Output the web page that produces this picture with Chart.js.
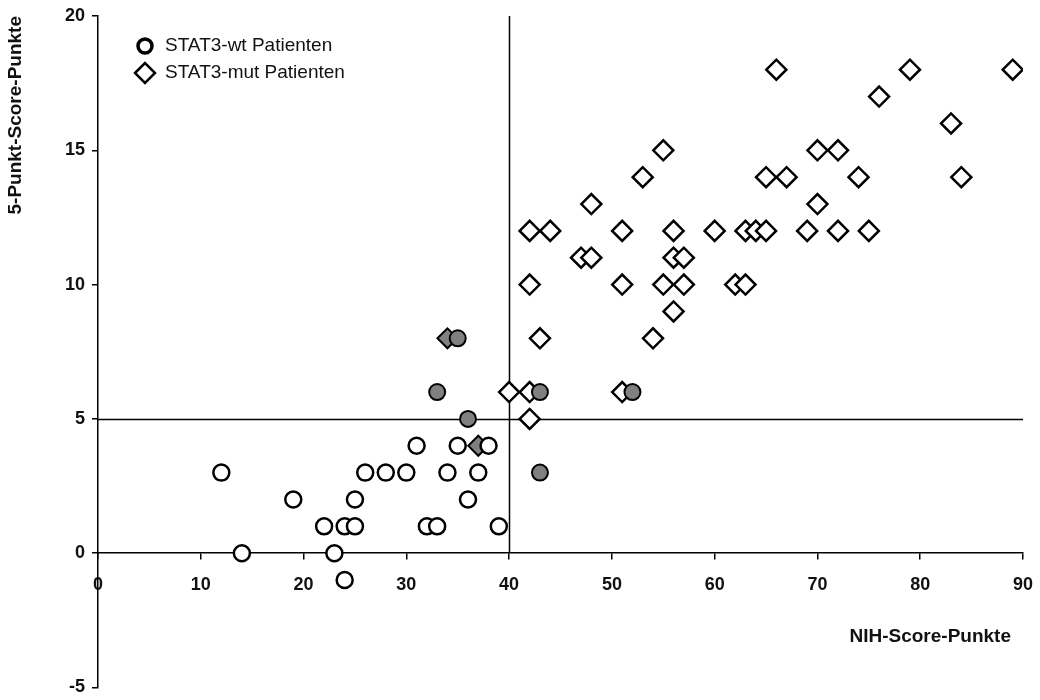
<!DOCTYPE html>
<html>
<head>
<meta charset="utf-8">
<script src="https://cdn.jsdelivr.net/npm/chart.js@4.4.1/dist/chart.umd.min.js"></script>
<style>
  html, body { margin: 0; padding: 0; background: #fff; }
  #wrap { width: 1040px; height: 700px; }
</style>
</head>
<body>
<div id="wrap"><canvas id="scoreChart" width="1040" height="700"></canvas></div>
<script>
// STAT3-wt Patienten (offene Kreise)
var wtNih   = [12, 14, 19, 22, 23, 24, 24, 25, 25, 26, 28, 30, 31, 32, 33, 34, 35, 36, 37, 38, 39];
var wtScore = [ 3,  0,  2,  1,  0,  1, -1,  1,  2,  3,  3,  3,  4,  1,  1,  3,  4,  2,  3,  4,  1];

// STAT3-mut Patienten (offene Rauten)
var mutNih   = [40, 42, 42, 43, 51, 54, 56, 42, 51, 55, 57, 62, 63, 47, 48, 56, 57,
                42, 44, 51, 56, 60, 63, 64, 65, 69, 72, 75, 48, 70, 53, 65, 67, 74, 84,
                55, 70, 72, 83, 76, 66, 79, 89];
var mutScore = [ 6,  6,  5,  8,  6,  8,  9, 10, 10, 10, 10, 10, 10, 11, 11, 11, 11,
                12, 12, 12, 12, 12, 12, 12, 12, 12, 12, 12, 13, 13, 14, 14, 14, 14, 14,
                15, 15, 15, 16, 17, 18, 18, 18];

// grau gefuellte Symbole (ohne Legende)
var greyCircNih   = [33, 35, 36, 43, 43, 52];
var greyCircScore = [ 6,  8,  5,  6,  3,  6];
var greyDiaNih    = [34, 37];
var greyDiaScore  = [ 8,  4];

// Achsen und Trennlinien
var xTicksStep = 10, xMin = 0, xMax = 90;
var yTicksStep = 5, yMin = -5, yMax = 20;
var nihCut = 40, scoreCut = 5;

var legendNames = ['STAT3-wt Patienten', 'STAT3-mut Patienten'];

function toPoints(xs, ys) {
  return xs.map(function (x, i) { return { x: x, y: ys[i] }; });
}

var grey = '#808080';
var tickFont = { family: "'Liberation Sans', Arial, sans-serif", size: 18, weight: 'bold' };

var dataForScore = {
  datasets: [
    { label: legendNames[0], data: toPoints(wtNih, wtScore), pointStyle: 'circle', pointRadius: 8,
      backgroundColor: '#fff', borderColor: '#000', borderWidth: 2.5, order: 1 },
    { label: legendNames[1], data: toPoints(mutNih, mutScore), pointStyle: 'rectRot', pointRadius: 10,
      backgroundColor: '#fff', borderColor: '#000', borderWidth: 2.5, order: 3 },
    { label: '', data: toPoints(greyCircNih, greyCircScore), pointStyle: 'circle', pointRadius: 8,
      backgroundColor: grey, borderColor: '#000', borderWidth: 2, order: 0 },
    { label: '', data: toPoints(greyDiaNih, greyDiaScore), pointStyle: 'rectRot', pointRadius: 10,
      backgroundColor: grey, borderColor: '#000', borderWidth: 2, order: 2 }
  ]
};

// Trennlinien bei NIH=40 und Score=5
var cutLines = {
  id: 'cutLines',
  beforeDatasetsDraw: function (chart) {
    var ctx = chart.ctx, xs = chart.scales.x, ys = chart.scales.y;
    ctx.save();
    ctx.strokeStyle = '#000';
    ctx.lineWidth = 1.5;
    ctx.beginPath();
    var px = Math.round(xs.getPixelForValue(nihCut)) + 0.5;
    ctx.moveTo(px, ys.getPixelForValue(yMax));
    ctx.lineTo(px, ys.getPixelForValue(0));
    var py = Math.round(ys.getPixelForValue(scoreCut)) + 0.5;
    ctx.moveTo(xs.getPixelForValue(xMin), py);
    ctx.lineTo(xs.getPixelForValue(xMax), py);
    ctx.stroke();
    ctx.restore();
  }
};

// Legende im Diagramm + x-Achsentitel
var innerLegend = {
  id: 'innerLegend',
  afterDraw: function (chart) {
    var ctx = chart.ctx, area = chart.chartArea;
    ctx.save();
    var rows = [
      { ds: chart.data.datasets[0], y: area.top + 30, radius: 7, bw: 3.5 },
      { ds: chart.data.datasets[1], y: area.top + 57, radius: 10, bw: 2.5 }
    ];
    rows.forEach(function (r) {
      ctx.fillStyle = '#fff';
      ctx.strokeStyle = '#000';
      ctx.lineWidth = r.bw;
      Chart.helpers.drawPoint(ctx, { pointStyle: r.ds.pointStyle, radius: r.radius, rotation: 0, borderWidth: r.bw },
        area.left + 47, r.y);
      ctx.fillStyle = '#111';
      ctx.font = "19px 'Liberation Sans', Arial, sans-serif";
      ctx.textBaseline = 'middle';
      ctx.textAlign = 'left';
      ctx.fillText(r.ds.label, area.left + 67, r.y);
    });
    var ys = chart.scales.y;
    ctx.font = "bold 19px 'Liberation Sans', Arial, sans-serif";
    ctx.textAlign = 'right';
    ctx.fillText('NIH-Score-Punkte', area.right - 12, ys.getPixelForValue(0) + 84);
    ctx.restore();
  }
};

var optionsForScore = {
  responsive: false,
  animation: false,
  layout: { padding: { top: 16, right: 17, bottom: 12, left: 0 } },
  plugins: { legend: { display: false }, tooltip: { enabled: false } },
  scales: {
    x: {
      type: 'linear', min: xMin, max: xMax, position: { y: 0 },
      ticks: { stepSize: xTicksStep, font: tickFont, color: '#111', padding: 15 },
      grid: { drawOnChartArea: false, drawTicks: true, tickLength: 6, color: '#000', lineWidth: 1.5 },
      border: { display: true, color: '#000', width: 1.5 },
      afterFit: function (scale) { scale.paddingLeft = 0; scale.paddingRight = 0; }
    },
    y: {
      type: 'linear', min: yMin, max: yMax, position: 'left',
      ticks: { stepSize: yTicksStep, font: tickFont, color: '#111', padding: 7 },
      grid: { drawOnChartArea: false, drawTicks: true, tickLength: 6, color: '#000', lineWidth: 1.5 },
      border: { display: true, color: '#000', width: 1.5 },
      title: { display: true, text: '5-Punkt-Score-Punkte', align: 'end', color: '#111',
               font: { family: "'Liberation Sans', Arial, sans-serif", size: 19, weight: 'bold' },
               padding: { top: 4, bottom: 0 } },
      afterFit: function (scale) { scale.width = 98; scale.paddingTop = 0; scale.paddingBottom = 0; }
    }
  }
};

var ctxScore = document.getElementById('scoreChart').getContext('2d');
var chartScore = new Chart(ctxScore, {
  type: 'scatter',
  data: dataForScore,
  options: optionsForScore,
  plugins: [cutLines, innerLegend]
});
</script>
</body>
</html>
